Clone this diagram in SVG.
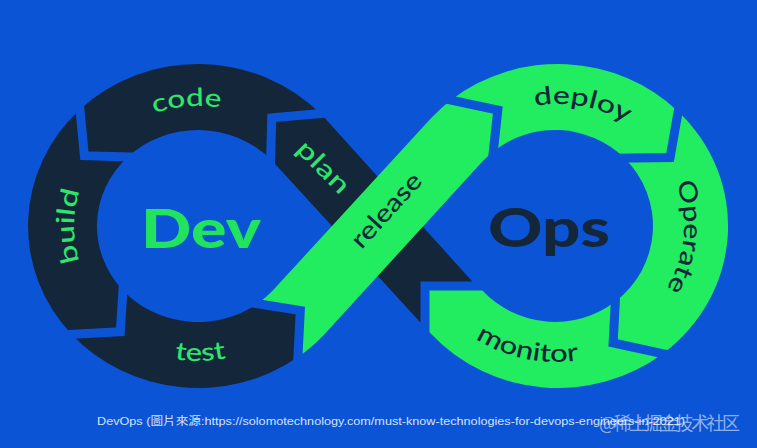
<svg xmlns="http://www.w3.org/2000/svg" width="757" height="448" viewBox="0 0 757 448">
<style>
.dark{fill:#14263a}
.green{fill:#22ec60}
.gap{fill:none;stroke:#0b54d6;stroke-width:9;stroke-linejoin:miter;stroke-miterlimit:10}
.lbl{font-family:Lato,"Open Sans",sans-serif;font-size:25px;font-weight:500}
.lg{fill:#2ee66a}
.ld{fill:#14263a}
.big{font-family:Lato,Inter,sans-serif;font-weight:900;font-size:54px}
.cap{font-family:"Liberation Sans","Noto Sans CJK TC",sans-serif;font-size:11.5px;fill:#d5e2fb}
.wm{font-family:"Noto Sans CJK SC",sans-serif;font-size:18px;fill:#ffffff;fill-opacity:0.55}
</style>
<defs>
<path id="p-code" d="M125.7,127.7 A126,120 0 0 1 251.2,117.2"/>
<path id="p-build" d="M90.6,285 A124,118 0 0 1 90.6,167"/>
<path id="p-test" d="M140.3,349.3 A141.75,135 0 0 0 260.1,347.3"/>
<path id="p-deploy" d="M520.5,109.3 A128.1,122 0 0 1 638.6,131.2"/>
<path id="p-operate" d="M672,174 A128,123 0 0 1 660.9,296.6"/>
<path id="p-monitor" d="M467,332.4 A143,136 0 0 0 589.4,358.2"/>
</defs>
<rect width="757" height="448" fill="#0b54d6"/>

<g id="plan">
<path class="dark" d="M271.8,117.8 L320.3,113.5 A170,162 0 0 1 324.3,117.6 L476.4,286 L425,286 L425,327.5 L273,161.8 A101,96 0 0 0 270.6,159.3 Z"/>
<text class="lbl lg" x="317.5" y="173" text-anchor="middle" textLength="64" lengthAdjust="spacingAndGlyphs" transform="rotate(45 317.5 173)">plan</text>
</g>
<g id="code">
<path class="dark" d="M320.3,113.5 A170,162 0 0 0 79.9,109.5 L84.4,155.7 L127.8,156.9 A101,96 0 0 1 270.6,159.3 L271.8,117.8 Z"/>
<text class="lbl lg"><textPath href="#p-code" startOffset="50%" text-anchor="middle" textLength="67" lengthAdjust="spacingAndGlyphs">code</textPath></text>
</g>
<g id="build">
<path class="dark" d="M79.9,109.5 A170,162 0 0 0 71.7,334.4 L120.3,331.7 L122.9,290.2 A101,96 0 0 1 127.8,156.9 L84.4,155.7 Z"/>
<text class="lbl lg"><textPath href="#p-build" startOffset="50%" text-anchor="middle" textLength="72" lengthAdjust="spacingAndGlyphs">build</textPath></text>
</g>
<g id="test">
<path class="dark" d="M71.7,334.4 A170,162 0 0 0 297.9,357.1 L300.3,310.6 L257.4,303.7 A101,96 0 0 1 122.9,290.2 L120.3,331.7 Z"/>
<text class="lbl lg"><textPath href="#p-test" startOffset="50%" text-anchor="middle" textLength="52" lengthAdjust="spacingAndGlyphs">test</textPath></text>
</g>
<g id="release">
<path class="green" d="M297.9,357.1 A170,162 0 0 0 324.3,334.4 L482.2,161.8 A98,96 0 0 1 493.3,151.4 L497.8,110.1 L451,100.1 A170,162 0 0 0 431.7,117.6 L273,290.2 A101,96 0 0 1 257.4,303.7 L300.3,310.6 Z"/>
<text class="lbl ld" x="392.5" y="216" text-anchor="middle" textLength="92" lengthAdjust="spacingAndGlyphs" transform="rotate(-47.6 392.5 216)">release</text>
</g>
<g id="deploy">
<path class="green" d="M451,100.1 A170,162 0 0 1 678.2,111.4 L670.1,157.6 L624.3,158.1 A98,96 0 0 0 493.3,151.4 L497.8,110.1 Z"/>
<text class="lbl ld"><textPath href="#p-deploy" startOffset="50%" text-anchor="middle" textLength="95" lengthAdjust="spacingAndGlyphs">deploy</textPath></text>
</g>
<g id="operate">
<path class="green" d="M678.2,111.4 A170,162 0 0 1 662.7,353.7 L613.1,342.9 L615.3,301.6 A98,96 0 0 0 624.3,158.1 L670.1,157.6 Z"/>
<text class="lbl ld"><textPath href="#p-operate" startOffset="50%" text-anchor="middle" textLength="110" lengthAdjust="spacingAndGlyphs">Operate</textPath></text>
</g>
<g id="monitor">
<path class="green" d="M662.7,353.7 A170,162 0 0 1 431.7,334.4 L425,327.5 L425,286 L476.4,286 L482.2,290.2 A98,96 0 0 0 615.3,301.6 L613.1,342.9 Z"/>
<text class="lbl ld"><textPath href="#p-monitor" startOffset="50%" text-anchor="middle" textLength="108" lengthAdjust="spacingAndGlyphs">monitor</textPath></text>
</g>

<g id="gaps">
<path class="gap" d="M297.3,368.7 L300.3,310.6 L246.7,302"/>
<path class="gap" d="M59.6,335.1 L120.3,331.7 L123.6,279.8"/>
<path class="gap" d="M78.8,98 L84.4,155.7 L138.7,157.2"/>
<path class="gap" d="M332.4,112.4 L271.8,117.8 L270.3,169.7"/>
<path class="gap" d="M439.3,97.6 L497.8,110.1 L492.2,161.7"/>
<path class="gap" d="M680.2,99.9 L670.1,157.6 L612.9,158.2"/>
<path class="gap" d="M675.1,356.4 L613.1,342.9 L615.9,291.3"/>
<path class="gap" d="M489.3,286 L425,286 L425,337.9"/>
</g>

<g id="dev"><text class="big" x="201" y="248" text-anchor="middle" textLength="120" lengthAdjust="spacingAndGlyphs" fill="#22e35d">Dev</text></g>
<g id="ops"><text class="big" x="549" y="247" text-anchor="middle" textLength="122" lengthAdjust="spacingAndGlyphs" fill="#14263a">Ops</text></g>

<text class="cap" x="97" y="425" textLength="588" lengthAdjust="spacingAndGlyphs">DevOps (圖片來源:https://solomotechnology.com/must-know-technologies-for-devops-engineers-in-2021)</text>
<text class="wm" x="599" y="430" textLength="141">@稀土掘金技术社区</text>
</svg>
